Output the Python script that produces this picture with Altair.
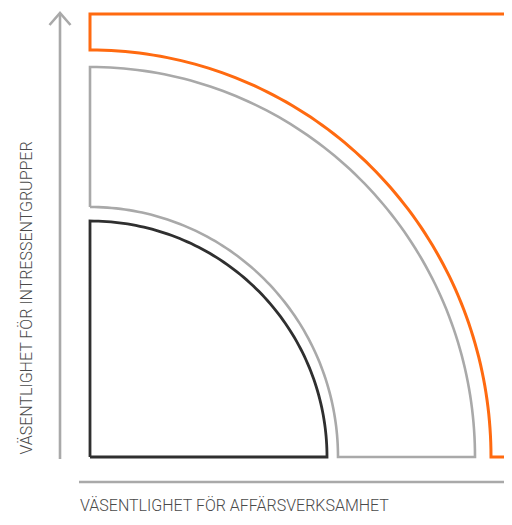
import altair as alt
import numpy as np
import pandas as pd

# Diagram geometry in chart units (origin = lower-left corner of the shapes)
inner_radius = (237, 236)          # dark quarter circle (rx, ry)
band_inner_radius = (248, 250)     # grey band, inner edge
band_outer_radius = (385, 390)     # grey band, outer edge
outer_radius = (401, 407)          # orange region, inner edge
outer_top = 443                    # orange region, top edge
outer_right = 445                  # orange region runs off the right edge

y_axis_x = -30
y_axis_range = (-2, 444)
arrow_arm = (10.5, 12)
x_axis_y = -25
x_axis_range = (-11, 445)

x_title = "VÄSENTLIGHET FÖR AFFÄRSVERKSAMHET"
y_title = "VÄSENTLIGHET FÖR INTRESSENTGRUPPER"

shape_names = ["inner", "band", "outer", "axis_y", "arrow", "axis_x"]
shape_colors = ["#2f2f2f", "#a9a9a9", "#ff6a10", "#a9a9a9", "#a9a9a9", "#a9a9a9"]
shape_widths = [2.8, 2.6, 3.0, 2.6, 2.6, 2.6]


def arc(r, a0, a1, n=90):
    t = np.radians(np.linspace(a0, a1, n))
    return list(zip(r[0] * np.cos(t), r[1] * np.sin(t)))


paths = {
    "inner": [(0, 0), (0, inner_radius[1])] + arc(inner_radius, 90, 0) + [(0, 0)],
    "band": [(0, band_inner_radius[1]), (0, band_outer_radius[1])]
    + arc(band_outer_radius, 90, 0)
    + [(band_inner_radius[0], 0)]
    + arc(band_inner_radius, 0, 90),
    "outer": [(outer_right, 0)] + arc(outer_radius, 0, 90)
    + [(0, outer_top), (outer_right, outer_top)],
    "axis_y": [(y_axis_x, y_axis_range[0]), (y_axis_x, y_axis_range[1])],
    "arrow": [
        (y_axis_x - arrow_arm[0], y_axis_range[1] - arrow_arm[1]),
        (y_axis_x, y_axis_range[1]),
        (y_axis_x + arrow_arm[0], y_axis_range[1] - arrow_arm[1]),
    ],
    "axis_x": [(x_axis_range[0], x_axis_y), (x_axis_range[1], x_axis_y)],
}

rows = []
for name, pts in paths.items():
    for i, (x, y) in enumerate(pts):
        rows.append({"shape": name, "i": i, "x": float(x), "y": float(y)})
df = pd.DataFrame(rows)

W, H = 496, 509
xs = alt.Scale(domain=[-82, 414], range=[0, W], nice=False, zero=False)
ys = alt.Scale(domain=[-60, 449], range=[H, 0], nice=False, zero=False)

layers = []
for name, col, sw in zip(shape_names, shape_colors, shape_widths):
    layers.append(
        alt.Chart(df[df["shape"] == name])
        .mark_line(color=col, strokeWidth=sw, strokeJoin="miter", strokeCap="butt", clip=True)
        .encode(
            x=alt.X("x:Q", scale=xs, axis=None),
            y=alt.Y("y:Q", scale=ys, axis=None),
            order="i:Q",
        )
    )

xt = alt.Chart(pd.DataFrame({"t": [x_title]})).mark_text(
    align="left", baseline="alphabetic", font="Roboto", fontWeight=300,
    fontSize=16, color="#4a4a4a"
).encode(text="t:N", x=alt.value(72), y=alt.value(503))

yt = alt.Chart(pd.DataFrame({"t": [y_title]})).mark_text(
    align="center", baseline="alphabetic", angle=270, font="Roboto", fontWeight=300,
    fontSize=16, color="#4a4a4a"
).encode(text="t:N", x=alt.value(24), y=alt.value(290))

chart = alt.layer(*layers, xt, yt).properties(
    width=W, height=H, padding=0, autosize=alt.AutoSizeParams(type="none"),
    background="white"
).configure_view(stroke=None)

chart.save("out.html", embed_options={"renderer": "svg", "actions": False})
